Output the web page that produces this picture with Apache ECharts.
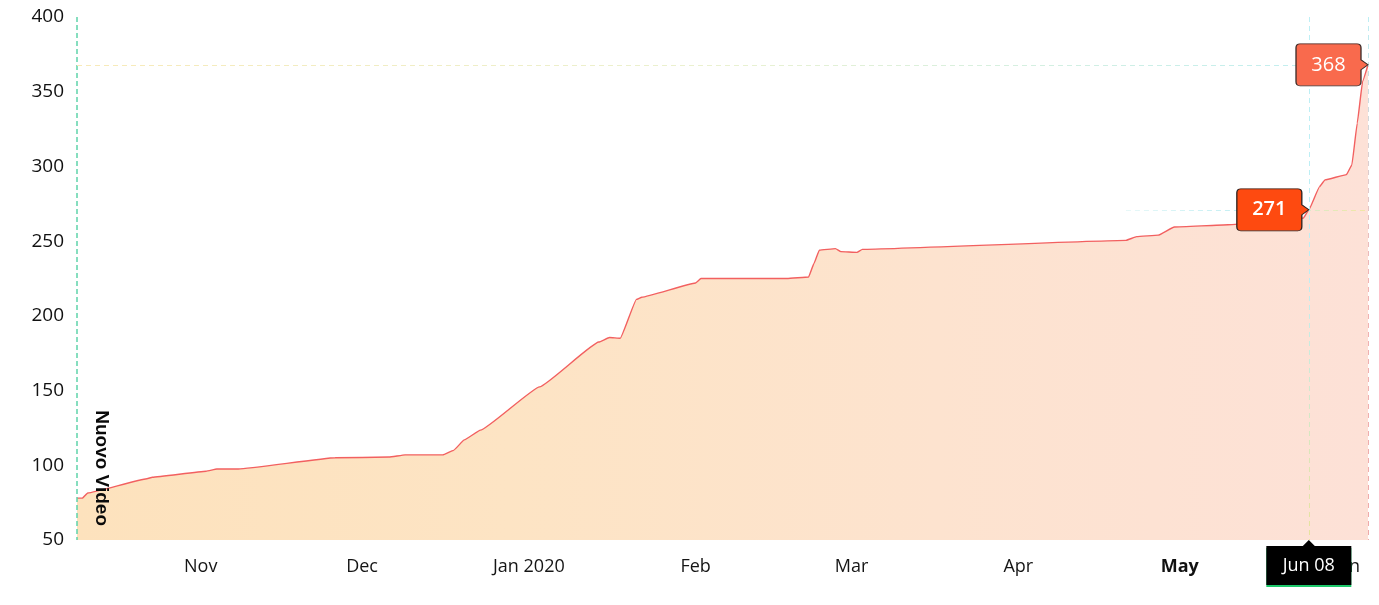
<!DOCTYPE html>
<html><head><meta charset="utf-8">
<script src="https://cdn.jsdelivr.net/npm/echarts@6/dist/echarts.min.js"></script>
<style>html,body{margin:0;padding:0;background:#fff}#c{width:1379px;height:605px}</style>
</head><body><div id="c"></div>
<script>
// ---- data ----
const dates = ['2019-10-23','2019-10-24','2019-10-25','2019-11-05','2019-11-06','2019-11-16','2019-11-18','2019-11-22',
  '2019-12-10','2019-12-20','2019-12-23','2019-12-30','2020-01-01','2020-01-03','2020-01-06','2020-01-17','2020-01-28',
  '2020-01-30','2020-02-01','2020-02-04','2020-02-05','2020-02-15','2020-02-16','2020-03-03','2020-03-07','2020-03-08',
  '2020-03-09','2020-03-12','2020-03-13','2020-03-16','2020-03-17','2020-05-05','2020-05-07','2020-05-11','2020-05-14',
  '2020-05-24','2020-06-07','2020-06-08','2020-06-10','2020-06-11','2020-06-15','2020-06-16','2020-06-17','2020-06-18',
  '2020-06-19'];
const values = [78,78,81.5,91,92,96,97.5,97.5,
  105,105.5,107,107,110,117,123.5,152.5,182.5,
  185.5,185,211,212.5,222,225,225,226,235,
  244,245,243,242.5,244.5,250.5,253,254,259.5,
  261,265.5,271,286.5,291,294.5,301,329,357,
  368];
const tickDates = ['2019-11-15','2019-12-15','2020-01-15','2020-02-15','2020-03-15','2020-04-15','2020-05-15','2020-06-15'];
const tickLabels = ['Nov','Dec','Jan 2020','Feb','Mar','Apr','May','Jun'];
const axisStart = '2019-10-23';
const axisEnd = '2020-06-19';
const eventDate = '2019-10-23';
const eventLabel = 'Nuovo Video';
const focusDate = '2020-06-08';
const focusLabel = 'Jun 08';
const yMin = 50, yMax = 400, yStep = 50;

// ---- helpers ----
const ts = s => { const p = s.split('-').map(Number); return new Date(p[0], p[1]-1, p[2]).getTime(); };
const seriesData = dates.map((d, i) => [ts(d), values[i]]);
const tickTs = tickDates.map(ts);
const maxVal = Math.max(...values);
const maxDate = dates[values.indexOf(maxVal)];
const focusVal = values[dates.indexOf(focusDate)];

const calloutRight = 'path://M4,0 H61 Q65,0 65,4 V16 L72,21 L65,26 V38 Q65,42 61,42 H4 Q0,42 0,38 V4 Q0,0 4,0 Z';
const calloutUp = 'path://M0,6 H36.5 L42.5,0 L48.5,6 H85 V45 H0 Z';

const chart = echarts.init(document.getElementById('c'), null, {renderer: 'canvas'});
const lin = (x1,y1,x2,y2,stops) => new echarts.graphic.LinearGradient(x1,y1,x2,y2,stops.map((c,i)=>({offset:i/(stops.length-1), color:c})));

chart.setOption({
  animation: false,
  backgroundColor: '#ffffff',
  textStyle: {fontFamily: 'Open Sans'},
  grid: {left: 77, right: 11, top: 17, bottom: 65, containLabel: false},
  xAxis: {
    type: 'value',
    min: ts(axisStart), max: ts(axisEnd),
    axisLine: {show: false},
    axisTick: {show: false},
    splitLine: {show: false},
    axisLabel: {
      customValues: tickTs,
      hideOverlap: false,
      margin: 18,
      fontSize: 18,
      fontWeight: 500,
      color: '#151515',
      fontFamily: 'Open Sans',
      formatter: v => { const i = tickTs.indexOf(v); const t = i >= 0 ? tickLabels[i] : ''; return t === 'May' ? '{b|' + t + '}' : t; },
      rich: {b: {fontWeight: 'bold', fontSize: 18, color: '#111', fontFamily: 'Open Sans'}}
    }
  },
  yAxis: {
    type: 'value', min: yMin, max: yMax, interval: yStep,
    axisLine: {show: false}, axisTick: {show: false}, splitLine: {show: false},
    axisLabel: {fontSize: 19, fontWeight: 500, color: '#111', margin: 13, fontFamily: 'Open Sans'}
  },
  series: [{
    type: 'line',
    data: seriesData,
    smooth: 0.1,
    smoothMonotone: 'x',
    showSymbol: false,
    clip: false,
    lineStyle: {color: '#f26060', width: 1.4},
    areaStyle: {opacity: 1, color: lin(0,0,1,0,['#fde2bd','#fde4c4','#fde3cf','#fde1d7'])},
    markLine: {
      silent: true,
      symbol: ['none','none'],
      animation: false,
      data: [
        [{coord: [ts(eventDate), yMax], lineStyle: {color: '#5fd4ab', type: [5,3], width: 1.5},
          label: {show: true, formatter: eventLabel, position: 'insideEndTop', distance: [14, 15],
                  color: '#0a0a0a', fontWeight: 'bold', fontSize: 19, fontFamily: 'Liberation Sans'}},
         {coord: [ts(eventDate), yMin]}],
        [{coord: [ts(axisStart), maxVal], lineStyle: {color: lin(0,0,1,0,['#f8eab8','#eaf1d0','#bdeef3']), type: [5,4], width: 1}, label: {show: false}},
         {coord: [ts(axisEnd), maxVal]}],
        [{coord: [ts('2020-05-05'), focusVal], lineStyle: {color: lin(0,0,1,0,['#e8f8f8','#c0eef3','#f3e6a0']), type: [5,4], width: 1}, label: {show: false}},
         {coord: [ts(axisEnd), focusVal]}],
        [{coord: [ts(focusDate), yMax], lineStyle: {color: lin(0,0,0,1,['#bdeff5','#bdeff5','#e9e29a']), type: [5,4], width: 1}, label: {show: false}},
         {coord: [ts(focusDate), yMin]}],
        [{coord: [ts(axisEnd), yMax], lineStyle: {color: lin(0,0,0,1,['#bdeff5','#f0b4b4','#eeaaaa']), type: [5,4], width: 1}, label: {show: false}},
         {coord: [ts(axisEnd), yMin]}]
      ]
    },
    markPoint: {
      silent: true,
      animation: false,
      data: [
        {coord: [ts(maxDate), maxVal], value: maxVal, symbol: calloutRight, symbolSize: [72,42], symbolOffset: [-36, 0],
         itemStyle: {color: '#f96a4d', borderColor: '#3b2b28', borderWidth: 1},
         label: {show: true, position: 'inside', offset: [-3.5, 0], color: '#fff', fontSize: 20, fontFamily: 'Open Sans'}},
        {coord: [ts(focusDate), focusVal], value: focusVal, symbol: calloutRight, symbolSize: [72,42], symbolOffset: [-36, 0],
         itemStyle: {color: '#fe4a10', borderColor: '#2b2220', borderWidth: 1},
         label: {show: true, position: 'inside', offset: [-3.5, 0], color: '#fff', fontSize: 20, fontWeight: 600, fontFamily: 'Open Sans'}},
        {coord: [ts(focusDate), yMin], value: focusLabel, symbol: calloutUp, symbolSize: [85,45], symbolOffset: [0, 22.5],
         itemStyle: {color: '#000', shadowColor: '#1cc86a', shadowOffsetY: 2, shadowBlur: 0},
         label: {show: true, position: 'inside', formatter: focusLabel, offset: [0, 3], color: '#fff', fontSize: 18, fontFamily: 'Open Sans'}}
      ]
    }
  }]
});
</script></body></html>
